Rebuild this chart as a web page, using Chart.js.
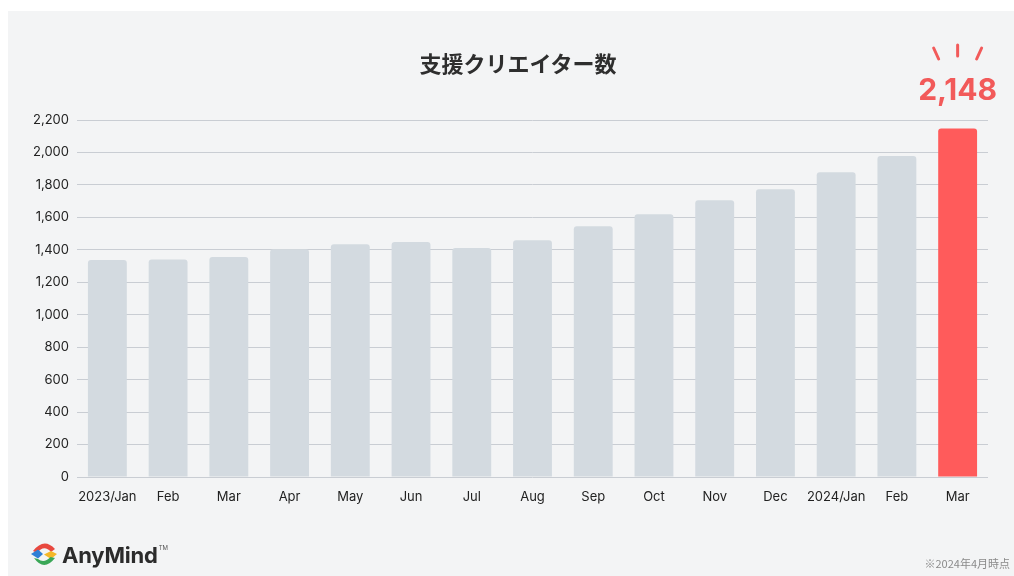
<!DOCTYPE html>
<html>
<head>
<meta charset="utf-8">
<script src="https://cdn.jsdelivr.net/npm/chart.js@4.4.1/dist/chart.umd.min.js"></script>
<style>
  html, body { margin:0; padding:0; background:#ffffff; }
  body { width:1014px; height:576px; position:relative; overflow:hidden; }
  #panel { position:absolute; left:8px; top:11px; width:1006px; height:565px; background:#f3f4f5; }
  #wrap { position:absolute; left:0; top:0; width:1014px; height:576px; }
  #title { position:absolute; top:46px; left:0; width:1036px; text-align:center;
    font-family:"Noto Sans CJK JP", sans-serif; font-weight:700; font-size:22px; color:#2e2e2e; }
  #logo { position:absolute; left:31px; top:541px; display:flex; align-items:center; }
  #logo span.name { font-family:Inter, "Liberation Sans", sans-serif; font-weight:700; font-size:22px; color:#2b2b2b; margin-left:5px; letter-spacing:-0.2px; }
  #logo span.tm { font-family:Inter, sans-serif; font-size:6px; color:#555; align-self:flex-start; margin-top:3px; margin-left:1px; }
  #note { position:absolute; right:4px; top:555px; font-family:"Noto Sans CJK JP", sans-serif; font-size:11px; color:#8a8a8a; }
</style>
</head>
<body>
<div id="panel"></div>
<div id="wrap"><canvas id="c" width="1014" height="576"></canvas></div>
<div id="title">支援クリエイター数</div>
<div id="logo">
  <svg width="26" height="27" viewBox="0 0 26 27">
    <path d="M2,10 Q13,-4 24,8 L20,11 Q13,3 6,12 Z" fill="#e8483f"/>
    <path d="M0,13 L7,8.5 L12,13 L7,17.5 Z" fill="#2f7fd6"/>
    <path d="M13,13.5 L20,10 L26,13 L20,18 Z" fill="#f4b728"/>
    <path d="M3,17 Q13,31 24,17 L19.5,16 Q13,23 7,18 Z" fill="#3aa757"/>
  </svg>
  <span class="name">AnyMind</span><span class="tm">TM</span>
</div>
<div id="note">※2024年4月時点</div>
<script>
const categories = ["2023/Jan","Feb","Mar","Apr","May","Jun","Jul","Aug","Sep","Oct","Nov","Dec","2024/Jan","Feb","Mar"];
const creators = [1338, 1341, 1356, 1403, 1434, 1448, 1411, 1459, 1545, 1619, 1705, 1773, 1878, 1978, 2148];
const yTicks = [0,200,400,600,800,1000,1200,1400,1600,1800,2000,2200];
const baseColor = "#d3dae0";
const highlightColor = "#ff5b5b";
const barColors = creators.map((v,i) => i === creators.length - 1 ? highlightColor : baseColor);

const highlightPlugin = {
  id: 'highlight',
  afterDatasetsDraw(chart) {
    const meta = chart.getDatasetMeta(0);
    const idx = creators.length - 1;
    const bar = meta.data[idx];
    const x = bar.x;
    const ctx = chart.ctx;
    ctx.save();
    ctx.fillStyle = "#f25a5a";
    ctx.font = "700 30px Inter, 'Liberation Sans', sans-serif";
    ctx.textAlign = "center";
    ctx.textBaseline = "middle";
    ctx.fillText(creators[idx].toLocaleString('en-US'), x, 91);
    ctx.strokeStyle = "#f25a5a";
    ctx.lineWidth = 3;
    ctx.lineCap = "round";
    const segs = [[-24,48,-19,59],[0,45,0,56],[24,48,19,59]];
    segs.forEach(s => { ctx.beginPath(); ctx.moveTo(x+s[0], s[1]); ctx.lineTo(x+s[2], s[3]); ctx.stroke(); });
    ctx.restore();
  }
};

new Chart(document.getElementById('c'), {
  type: 'bar',
  data: {
    labels: categories,
    datasets: [{
      data: creators,
      backgroundColor: barColors,
      borderRadius: { topLeft: 3, topRight: 3, bottomLeft: 0, bottomRight: 0 },
      borderSkipped: 'bottom',
      barPercentage: 0.64,
      categoryPercentage: 1.0
    }]
  },
  options: {
    responsive: false,
    animation: false,
    events: [],
    layout: { padding: { top: 120, right: 26, bottom: 0, left: 0 } },
    plugins: { legend: { display: false }, tooltip: { enabled: false }, title: { display: false } },
    scales: {
      x: {
        grid: { display: false, drawTicks: false },
        border: { display: false },
        ticks: { color: "#222", font: { family: "Inter, 'Liberation Sans', sans-serif", size: 13 }, padding: 12, maxRotation: 0, autoSkip: false },
        afterFit(s) { s.height = 99; }
      },
      y: {
        min: 0, max: 2200,
        afterBuildTicks(s) { s.ticks = yTicks.map(v => ({ value: v })); },
        grid: { color: "#c9cdd3", lineWidth: 1, drawTicks: false },
        border: { display: false },
        ticks: { color: "#222", font: { family: "Inter, 'Liberation Sans', sans-serif", size: 13 }, padding: 8,
          callback: v => Number(v).toLocaleString('en-US') },
        afterFit(s) { s.width = 77; }
      }
    }
  },
  plugins: [highlightPlugin]
});
</script>
</body>
</html>
